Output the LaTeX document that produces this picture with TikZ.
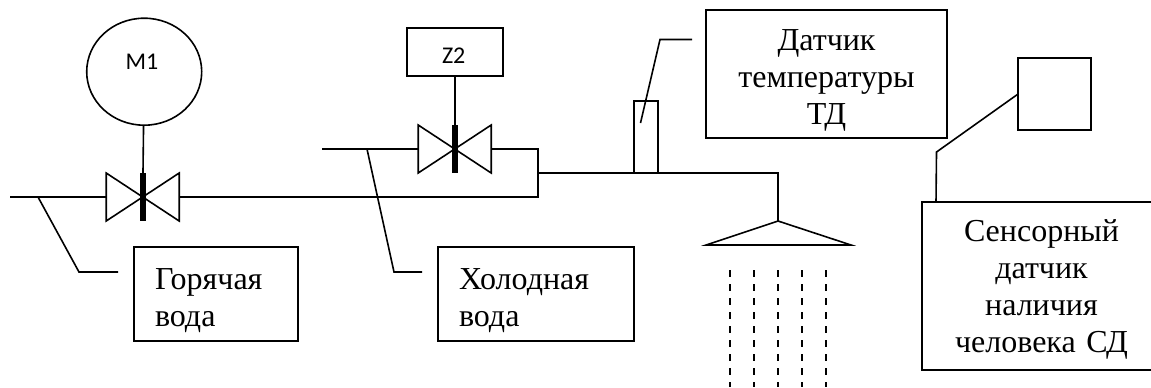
\documentclass[tikz,border=0pt]{standalone}
\usepackage{fontspec}
\setmainfont{Liberation Serif}
\newfontfamily\tagfont{Carlito}
\usetikzlibrary{shapes.geometric}
\usetikzlibrary{calc}

\tikzset{
    pipe/.style={line width=1.2pt},
    textbox/.style={draw, line width=1.2pt, rectangle, inner sep=0, outer sep=0, font=\fontsize{24}{27.75}\selectfont, execute at begin node=\rule{0pt}{#1}},
    textbox/.default=25pt,
    tagbox/.style={draw, line width=1.2pt, inner sep=0, outer sep=0},
    tag/.style={inner sep=0, font=\tagfont\fontsize{18}{18}\selectfont}
}
\newcommand{\valve}[1]{
    \draw [pipe] ($ (#1) + (-36.5, -24) $) -- ($ (#1) + (36.5, 24) $) -- ($ (#1) + (36.5, -24) $) -- ($ (#1) + (-36.5, 24) $) -- cycle;
    \draw [line width=4.5pt] ($ (#1) + (0, -24) $) -- ($ (#1) + (0, 24) $);
}

\begin{document}
\begin{tikzpicture}[x=.75pt, y=-.75pt]
    \clip (0, 0) rectangle (1151, 387);

    \coordinate (V1) at (142.7, 197);
    \coordinate (V2) at (454.7, 149);
    \coordinate (hotstart) at (10, 197);
    \coordinate (coldstart) at (322, 149);
    \coordinate (join) at (538, 197);
    \coordinate (joinup) at (538, 149);
    \coordinate (outlet) at (538, 173);
    \coordinate (elbow) at (778, 173);
    \coordinate (top) at (778, 221);
    \coordinate (hottap) at (38, 197);
    \coordinate (hotbend) at (79, 272);
    \coordinate (hotend) at (118, 272);
    \coordinate (coldtap) at (367, 149);
    \coordinate (coldbend) at (394, 272);
    \coordinate (coldend) at (422, 272);
    \coordinate (tempin) at (640.5, 123);
    \coordinate (tempbend) at (660, 39.5);
    \coordinate (tempend) at (692, 39.5);
    \coordinate (sensbend) at (936.5, 152);
    \coordinate (senstop) at (936, 202);

    \node [tagbox, ellipse, minimum width=86.25pt, minimum height=80.25pt] (M) at (144.2, 71.7) {};
    \node [tag] (Mtext) at (142, 62) {M1};
    \node [tagbox, minimum width=72pt, minimum height=36pt] (Z) at (454.7, 52) {};
    \node [tag] (Ztext) at (453.7, 56) {Z2};
    \node [tagbox, minimum width=18pt, minimum height=54pt] (tube) at (646, 137) {};
    \node [tagbox, minimum width=54.5pt, minimum height=54pt] (sens) at (1054.4, 94) {};

    \node [textbox, minimum width=123pt, minimum height=70.5pt, text width=91.5pt, align=left] (hot) at (216, 294) {Горячая\\вода};
    \node [textbox, minimum width=147pt, minimum height=70.5pt, text width=115.5pt, align=left] (cold) at (536, 294) {Холодная\\вода};
    \node [textbox=25pt, minimum width=180.75pt, minimum height=96pt, text width=170pt, align=center] (temp) at (826.5, 74) {Датчик\\температуры\\ТД};
    \node [textbox=21pt, minimum width=179pt, minimum height=126pt, text width=170pt, align=center] (human) at (1041.5, 286) {Сенсорный\\датчик\\наличия\\человека СД};

    \valve{V1}
    \valve{V2}
    \draw [pipe] (M) -- (V1);
    \draw [pipe] (Z) -- (V2);

    \draw [pipe] (hotstart) -- ($ (V1) + (-36.5, 0) $);
    \draw [pipe] ($ (V1) + (36.5, 0) $) -- (join) -- (joinup) -- ($ (V2) + (36.5, 0) $);
    \draw [pipe] (coldstart) -- ($ (V2) + (-36.5, 0) $);
    \draw [pipe] (outlet) -- (elbow) -- (top);
    \draw [pipe] (top) -- (851, 245) -- (706, 245) -- cycle;

    \foreach \x in {730, 754, 778, 802, 826} {
        \draw [line width=1.3pt, dash pattern=on 5.25pt off 5.25pt] (\x, 270) -- (\x, 387);
    }

    \draw [pipe] (hottap) -- (hotbend) -- (hotend);
    \draw [pipe] (coldtap) -- (coldbend) -- (coldend);
    \draw [pipe] (tempin) -- (tempbend) -- (tempend);
    \draw [pipe] (sens.west) -- (sensbend) -- (senstop);
\end{tikzpicture}
\end{document}
